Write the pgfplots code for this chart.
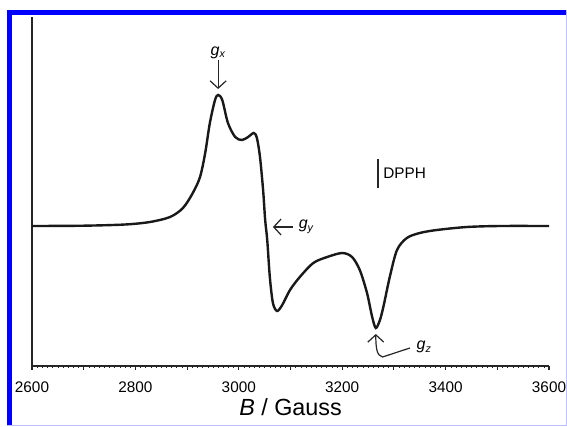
\documentclass[border=0pt]{standalone}
\usepackage{fontspec}
\setmainfont{Liberation Sans}
\usepackage{pgfplots}
\pgfplotsset{compat=1.18}
\usetikzlibrary{arrows.meta}
\definecolor{frameblue}{RGB}{0,0,255}
\definecolor{framelight}{RGB}{190,190,255}
\definecolor{curve}{RGB}{25,25,25}

\pgfplotstableread{
B     S
2600  0
2700  0.3
2780  1.5
2828  4
2867  9
2892  18
2911  33
2925  49
2935  73
2944  103
2954  126
2960  131
2968  126
2979  103
2993  89
3006  86
3018  89
3029  93
3035  88
3041  69
3047  36
3051  6
3055  -14
3060  -51
3066  -77
3074  -85
3084  -79
3099  -64
3118  -51
3144  -37
3171  -31
3200  -27
3219  -31
3234  -44
3248  -67
3258  -91
3265  -102
3273  -94
3280  -80
3292  -51
3306  -24
3325  -12
3350  -7
3383  -4
3441  -1
3505  0
3600  0
}\epr

\begin{document}
\begin{tikzpicture}[x=0.75pt,y=0.75pt]
\useasboundingbox (0,0) rectangle (567,426);
\fill[white] (0,0) rectangle (567,426);
\fill[frameblue] (7,0) rectangle (12,416);
\fill[frameblue] (7,411) rectangle (567,416);
\draw[framelight, line width=0.75pt] (566,0) -- (566,416);
\draw[framelight, line width=0.75pt] (7,0.6) -- (566,0.6);

\begin{axis}[
    at={(24pt,45pt)}, anchor=south west,
    scale only axis,
    width=387.75pt, height=261.75pt,
    xmin=2600, xmax=3600,
    ymin=-140, ymax=209,
    axis x line=bottom, axis y line=left,
    axis line style={-, line width=1.1pt, black!85},
    ytick=\empty,
    xtick={2600,2700,...,3600},
    xticklabels={2600,,2800,,3000,,3200,,3400,,3600},
    minor x tick num=9,
    tick align=outside,
    major tick length=3pt,
    minor tick length=1.3pt,
    tick style={black!85, line width=0.8pt},
    minor tick style={line width=0.4pt},
    /pgf/number format/assume math mode=true,
    tick label style={font=\fontsize{11.5}{12}\selectfont},
    xticklabel style={yshift=-5pt},
    xlabel={\textit{B} / Gauss},
    xlabel style={font=\fontsize{17.5}{18}\selectfont, yshift=2pt},
    clip=false,
  ]
  \addplot[curve, line width=1.8pt, smooth, tension=0.5] table[x=B, y=S] {\epr};

  % g_x
  \draw[-{Straight Barb[length=5.5pt,width=12pt]}, line width=0.9pt, black!85]
      (axis cs:2960,166) -- (axis cs:2960,137);
  \node[font=\fontsize{12}{12}\selectfont\itshape, anchor=base]
      at (axis cs:2960,171) {g\textsubscript{x}};

  % g_y
  \draw[-{Straight Barb[length=5.5pt,width=12pt]}, line width=0.9pt, black!85]
      (axis cs:3105,-1) -- (axis cs:3066,-1);
  \node[font=\fontsize{12}{12}\selectfont\itshape, anchor=west]
      at (axis cs:3107,-1) {g\textsubscript{y}};

  % DPPH
  \draw[line width=1.1pt, black!85] (axis cs:3269,38) -- (axis cs:3269,67);
  \node[font=\fontsize{11.5}{12}\selectfont, anchor=west, inner sep=0pt]
      at (axis cs:3279,53) {DPPH};

  % g_z
  \draw[-{Straight Barb[length=5.5pt,width=12pt]}, line width=0.9pt, black!85]
      (axis cs:3331,-122) -- (axis cs:3278,-131)
      .. controls (axis cs:3266,-130) and (axis cs:3265,-120) .. (axis cs:3265,-108);
  \node[font=\fontsize{12}{12}\selectfont\itshape, anchor=west]
      at (axis cs:3335,-121) {g\textsubscript{z}};
\end{axis}
\end{tikzpicture}
\end{document}
